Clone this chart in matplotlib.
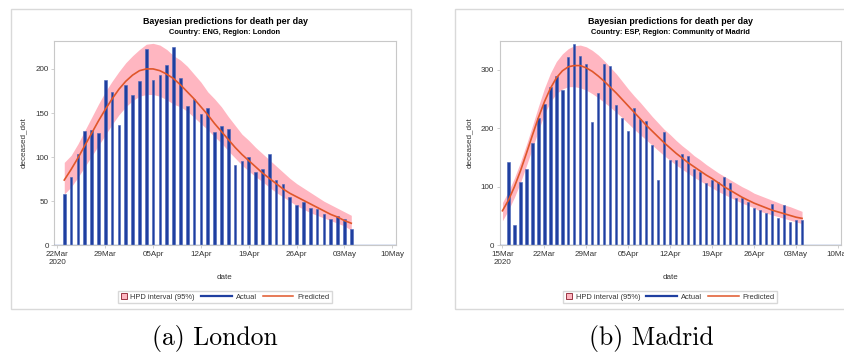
import numpy as np
import pandas as pd
import matplotlib
matplotlib.use("Agg")
import matplotlib.pyplot as plt
from matplotlib.patches import Rectangle, Patch
from matplotlib.lines import Line2D
from matplotlib.legend_handler import HandlerLine2D, HandlerPatch

plt.rcParams['font.family'] = ['Liberation Sans', 'DejaVu Sans']

# London (ENG)
lon_actual = [58, 78, 104, 130, 131, 127, 188, 174, 136, 182, 170, 186, 223, 187,
              193, 205, 225, 190, 158, 166, 149, 156, 129, 135, 132, 91, 96, 100,
              83, 86, 103, 74, 69, 55, 46, 49, 42, 41, 35, 30, 33, 30, 19]
lon_pred = [74, 86, 99, 113, 127, 141, 154, 166, 177, 186, 193, 198, 200, 200,
            198, 194, 189, 182, 174, 166, 157, 148, 138, 129, 120, 111, 103, 96,
            89, 82, 76, 70, 64, 59, 55, 51, 47, 43, 39, 35, 32, 28, 25]
lon_upper = [94, 102, 115, 130, 145, 160, 174, 186, 197, 207, 215, 222, 228, 229,
             227, 222, 215, 210, 203, 194, 185, 174, 166, 157, 146, 136, 126, 119,
             111, 104, 97, 90, 83, 76, 70, 65, 60, 55, 50, 46, 42, 38, 34]
lon_lower = [58, 66, 77, 89, 101, 113, 125, 137, 148, 157, 164, 169, 171, 171,
             169, 165, 160, 157, 152, 145, 138, 131, 123, 116, 107, 99, 91, 84,
             78, 72, 66, 60, 55, 50, 45, 41, 37, 34, 31, 28, 25, 22, 17]

# Madrid (ESP) - predictions start one day before the first observation
mad_actual = [142, 34, 108, 130, 174, 217, 242, 271, 289, 265, 322, 344, 324, 310,
              210, 261, 309, 307, 239, 217, 195, 234, 215, 213, 172, 112, 193, 145,
              145, 156, 153, 130, 125, 106, 111, 108, 116, 106, 80, 81, 74, 63, 61,
              56, 70, 46, 69, 39, 43, 43]
mad_pred = [59, 77, 100, 127, 157, 188, 218, 245, 268, 286, 298, 305, 307, 307,
            303, 297, 289, 280, 270, 260, 249, 238, 227, 216, 205, 195, 185, 175,
            166, 157, 149, 141, 134, 127, 120, 114, 107, 100, 94, 88, 82, 77, 72,
            68, 64, 60, 57, 54, 51, 48, 46]
mad_upper = [73, 92, 115, 142, 172, 204, 237, 268, 294, 314, 327, 336, 341, 342,
             339, 333, 325, 315, 304, 293, 280, 267, 255, 244, 232, 220, 209, 198,
             189, 179, 170, 162, 153, 146, 138, 131, 124, 118, 112, 106, 100, 95,
             89, 85, 81, 77, 73, 69, 66, 62, 58]
mad_lower = [42, 60, 82, 107, 136, 166, 196, 224, 245, 259, 267, 271, 271, 269,
             265, 259, 252, 244, 236, 227, 218, 208, 198, 189, 180, 171, 162, 153,
             145, 137, 130, 123, 116, 110, 104, 98, 92, 87, 82, 77, 72, 68, 64,
             58, 55, 52, 49, 46, 43, 40, 37]

lon_dates = pd.date_range("2020-03-23", periods=len(lon_actual))
mad_pred_dates = pd.date_range("2020-03-15", periods=len(mad_pred))
mad_dates = pd.date_range("2020-03-16", periods=len(mad_actual))

BAR = '#1f3fa0'
BAND = '#ffb6c1'
LINE = '#e0562a'
GRID = '#c8c8c8'
TXT = '#333333'

W, H = 845, 353
fig = plt.figure(figsize=(W / 100, H / 100), dpi=100)


def fx(px):
    return px / W


def fy(py):
    return 1 - py / H


class LongLine(HandlerLine2D):
    # line sample that reaches back into the column gap, so the
    # small square of the first entry can keep a short handle
    def create_artists(self, legend, orig_handle, xdescent, ydescent,
                       width, height, fontsize, trans):
        ext = 3.3 * fontsize
        y = (height - ydescent) / 2
        line = Line2D([-xdescent - ext, -xdescent + width], [y, y])
        self.update_prop(line, orig_handle, legend)
        line.set_transform(trans)
        return [line]


def square(legend, orig_handle, xdescent, ydescent, width, height, fontsize):
    s = 0.78 * fontsize
    return Rectangle((-xdescent, -ydescent + (height - s) / 2), s, s)


def panel(x0, ax_left, ax_right, subtitle, dates, actual, pdates, pred, lo, hi,
          start, ymax, yticks, caption, cap_x):
    # outer frame
    fig.patches.append(Rectangle((fx(x0), fy(309)), fx(400), 299.7 / H,
                                 transform=fig.transFigure, fill=False,
                                 edgecolor='#d9d9d9', lw=1))
    ax = fig.add_axes([fx(ax_left), fy(245.3), fx(ax_right - ax_left), 204.6 / H])
    ax.fill_between(pdates, lo, hi, color=BAND, lw=0, zorder=1)
    ax.bar(dates, actual, width=0.38, color=BAR, edgecolor='#4866b8', lw=0.4, zorder=2)
    ax.plot(pdates, pred, color=LINE, lw=1.2, zorder=3)
    ax.axhline(0, color='#6f8cd0', lw=1.0, zorder=4)

    first = pd.Timestamp(start)
    ticks = pd.date_range(first, "2020-05-10", freq="7D")
    ax.set_xlim(first - pd.Timedelta(hours=11), pd.Timestamp("2020-05-10") + pd.Timedelta(hours=12))
    ax.set_xticks(ticks)
    labels = [t.strftime("%d%b") for t in ticks]
    labels[0] = labels[0] + "\n2020"
    ax.set_xticklabels(labels)
    ax.set_ylim(0, ymax)
    ax.set_yticks(yticks)
    ax.tick_params(labelsize=5.8, colors=TXT, length=2.5, width=0.6, pad=1.5)
    ax.tick_params(axis='x', color=GRID)
    ax.tick_params(axis='y', color=GRID)
    for s in ax.spines.values():
        s.set_color(GRID)
        s.set_linewidth(0.8)

    ax.set_xlabel("date", fontsize=5.8, color=TXT, labelpad=6)
    ax.set_ylabel("deceased_dot", fontsize=5.8, color=TXT, labelpad=6)

    cx = fx((ax_left + ax_right) / 2)
    fig.text(cx, fy(21.7), "Bayesian predictions for death per day", ha='center',
             va='center', fontsize=6.4, fontweight='bold')
    fig.text(cx, fy(32), subtitle, ha='center', va='center', fontsize=5.4,
             fontweight='bold')

    hpd = Patch(facecolor=BAND, edgecolor='#8b1a2a', lw=0.6, label="HPD interval (95%)")
    act = Line2D([], [], color=BAR, lw=1.6, label="Actual")
    prd = Line2D([], [], color=LINE, lw=1.1, label="Predicted")
    fig.legend(handles=[hpd, act, prd], loc='center', ncol=3,
               bbox_to_anchor=(cx, fy(297)), fontsize=5.4, frameon=True,
               fancybox=False, edgecolor='#cfcfcf', borderpad=0.35,
               handlelength=0.8, handleheight=0.7, handletextpad=0.5,
               columnspacing=4.1, labelcolor=TXT, borderaxespad=0,
               handler_map={act: LongLine(), prd: LongLine(),
                            hpd: HandlerPatch(patch_func=square)})
    fig.text(fx(cap_x), fy(339), caption, ha='center', va='center',
             fontsize=18.5, family='cmr10')
    return ax


panel(10.7, 54.3, 395.7, "Country: ENG, Region: London", lon_dates, lon_actual,
      lon_dates, lon_pred, lon_lower, lon_upper, "2020-03-22", 232,
      [0, 50, 100, 150, 200], "(a) London", 215)
panel(455, 499.7, 841, "Country: ESP, Region: Community of Madrid", mad_dates,
      mad_actual, mad_pred_dates, mad_pred, mad_lower, mad_upper, "2020-03-15",
      349.5, [0, 100, 200, 300], "(b) Madrid", 651)

fig.savefig("out.png", dpi=100)
